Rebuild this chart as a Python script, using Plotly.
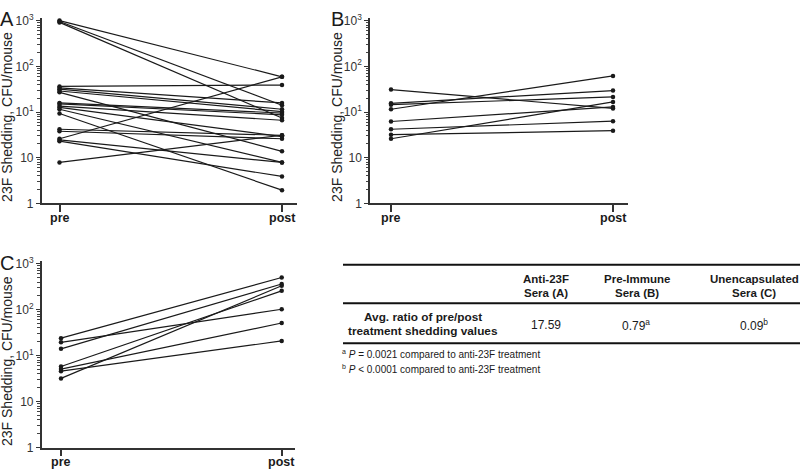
import plotly.graph_objects as go

W, H = 800, 475
FONT = "Liberation Sans, Arial, Helvetica, sans-serif"
INK = "#1a1a1a"

# ---------------- data (values on the plotted log axis) ----------------
x_labels = ["pre", "post"]

a_pre = [10000, 9550, 9120, 363, 339, 316, 288, 269, 158, 151, 135, 126, 115, 93, 42, 38, 26, 24.5, 23, 7.9]
a_post = [589, 141, 74, 389, 158, 115, 102, 13.8, 95, 87, 66, 29, 7.9, 1.95, 31, 26, 589, 7.9, 3.9, 31]

b_pre = [309, 155, 145, 115, 62, 42, 32, 26]
b_post = [120, 295, 214, 617, 129, 63, 39, 166]

c_pre = [240, 195, 141, 58, 51, 46, 32]
c_post = [5010, 1023, 3630, 2570, 513, 209, 3310]

y_tickvals = [1, 10, 100, 1000, 10000]
y_ticktext = ["1", "10", "10<sup>1</sup>", "10<sup>2</sup>", "10<sup>3</sup>"]
y_title = "23F Shedding, CFU/mouse"

col_headers = [("Anti-23F", "Sera (A)"), ("Pre-Immune", "Sera (B)"), ("Unencapsulated", "Sera (C)")]
row_label = ("Avg. ratio of pre/post", "treatment shedding values")
ratios = ["17.59", "0.79<sup>a</sup>", "0.09<sup>b</sup>"]
footnotes = ["<sup>a</sup> <i>P</i> = 0.0021 compared to anti-23F treatment",
             "<sup>b</sup> <i>P</i> < 0.0001 compared to anti-23F treatment"]


def px(x):
    return x / W


def py(y):
    return 1 - y / H


minor_vals = [m * 10 ** k for k in range(0, 4) for m in range(2, 10)]

fig = go.Figure()

panels = [
    ("x", "y", a_pre, a_post),
    ("x2", "y2", b_pre, b_post),
    ("x3", "y3", c_pre, c_post),
]
for xa, ya, pre, post in panels:
    for p0, p1 in zip(pre, post):
        fig.add_trace(go.Scatter(
            x=[0, 1], y=[p0, p1], xaxis=xa, yaxis=ya, mode="lines+markers",
            line=dict(color=INK, width=1.2), marker=dict(color=INK, size=4.5),
            showlegend=False, hoverinfo="skip"))

# axis geometry (pixels)
geo = {
    "1": dict(x0=41.7, x1=297, pre=59.5, post=282, ybot=203, dec=47),
    "2": dict(x0=370, x1=628, pre=391, post=613, ybot=203, dec=47),
    "3": dict(x0=41.7, x1=295, pre=61, post=281.7, ybot=454, dec=47.25),
}
YMAX = 4.06
layout_axes = {}
annotations = []


def ann(text, x, y, size=12, xanchor="center", yanchor="middle", bold=False, angle=0, color=INK):
    annotations.append(dict(
        text=("<b>%s</b>" % text) if bold else text, x=px(x), y=py(y), xref="paper", yref="paper",
        showarrow=False, xanchor=xanchor, yanchor=yanchor, textangle=angle,
        font=dict(family=FONT, size=size, color=color)))


for k, g in geo.items():
    unit = g["post"] - g["pre"]
    xr = [-(g["pre"] - g["x0"]) / unit, (g["x1"] - g["pre"]) / unit]
    ytop = g["ybot"] - YMAX * g["dec"]
    xname = "xaxis" if k == "1" else "xaxis" + k
    yname = "yaxis" if k == "1" else "yaxis" + k
    anchor_y = "y" if k == "1" else "y" + k
    anchor_x = "x" if k == "1" else "x" + k
    layout_axes[xname] = dict(
        domain=[px(g["x0"]), px(g["x1"])], range=xr, anchor=anchor_y,
        showline=True, linecolor="#333", linewidth=1.5, showgrid=False, zeroline=False,
        tickmode="array", tickvals=[0, 1], ticks="outside", ticklen=7, tickwidth=1.5,
        tickcolor="#333", showticklabels=False, fixedrange=True)
    layout_axes[yname] = dict(
        domain=[py(g["ybot"]), py(ytop)], type="log", range=[0, YMAX], anchor=anchor_x,
        showline=True, linecolor="#333", linewidth=1.5, showgrid=False, zeroline=False,
        tickmode="array", tickvals=y_tickvals, ticktext=y_ticktext,
        ticks="outside", ticklen=4, tickwidth=1.2, tickcolor="#333",
        minor=dict(tickvals=minor_vals, ticks="outside", ticklen=2.5, tickwidth=1, tickcolor="#444"),
        tickfont=dict(family=FONT, size=12, color="#333"), fixedrange=True)
    # category labels under the x ticks
    ann(x_labels[0], g["pre"], g["ybot"] + 15, size=12.5, bold=True)
    ann(x_labels[1], g["post"], g["ybot"] + 15, size=12.5, bold=True)

# panel letters
ann("A", -2, 0, size=20, xanchor="left", yanchor="top")
ann("B", 329, 0, size=20, xanchor="left", yanchor="top")
ann("C", -2, 251, size=20, xanchor="left", yanchor="top")

# y titles
ann(y_title, 7, 114, size=14, angle=-90, color="#222")
ann(y_title, 337, 114, size=14, angle=-90, color="#222")
ann(y_title, 7, 365, size=14, angle=-90, color="#222")

# table
col_x = [546, 637, 754]
val_x = [546, 636, 754]
for (h1, h2), cx in zip(col_headers, col_x):
    ann(h1, cx, 281, size=11.5, bold=True)
    ann(h2, cx, 295, size=11.5, bold=True)
ann(row_label[0], 423, 320, size=11.8, bold=True)
ann(row_label[1], 423, 334, size=11.8, bold=True)
for v, vx in zip(ratios, val_x):
    ann(v, vx, 328, size=12)
ann(footnotes[0], 340, 358, size=10, xanchor="left")
ann(footnotes[1], 340, 373, size=10, xanchor="left")

shapes = []
for yy in [266, 305.7, 346.7]:
    shapes.append(dict(type="line", xref="paper", yref="paper", x0=px(343), x1=px(800),
                       y0=py(yy), y1=py(yy), line=dict(color="#111", width=2)))

fig.update_layout(
    width=W, height=H, margin=dict(l=0, r=0, t=0, b=0),
    paper_bgcolor="white", plot_bgcolor="white",
    annotations=annotations, shapes=shapes, showlegend=False,
    **layout_axes)

fig.write_html("out.html", config={"displayModeBar": False},
               post_script="document.body.style.margin='0px';")
